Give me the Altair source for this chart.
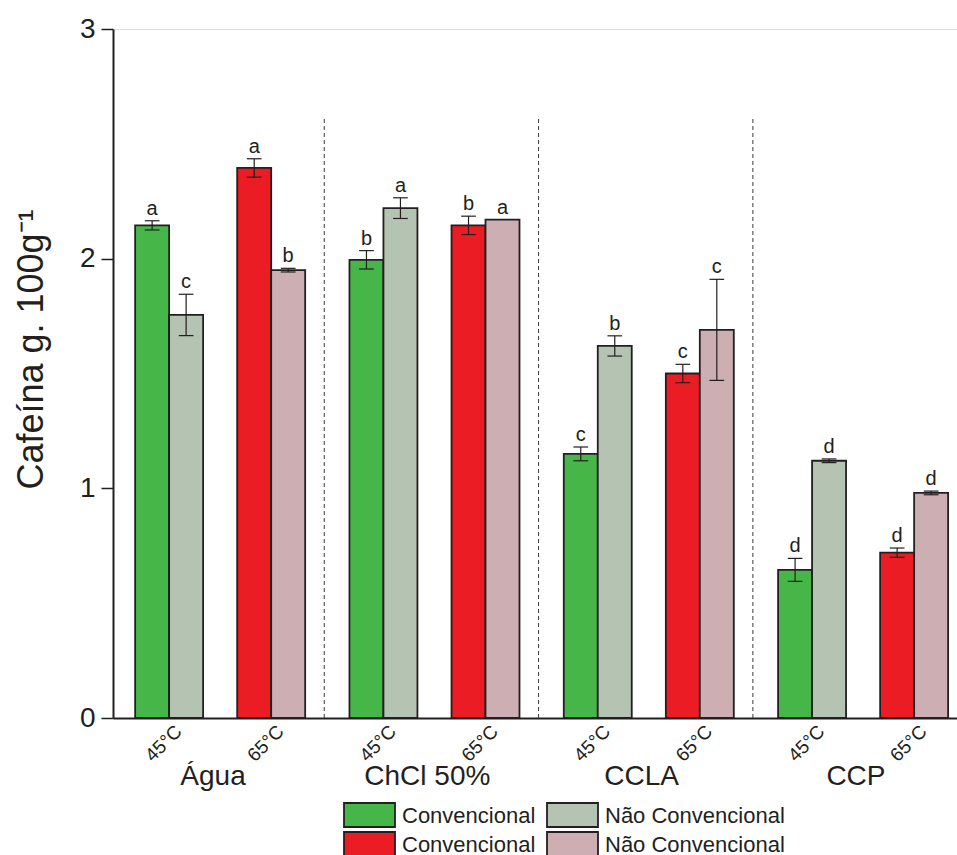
import altair as alt
import pandas as pd

# ---- data -------------------------------------------------------------
grupos = ["Água", "ChCl 50%", "CCLA", "CCP"]
temperaturas = ["45°C", "65°C"]
tratamentos = ["Convencional", "Não Convencional"]

# caffeine (g per 100 g), ordered group by group, 45 °C then 65 °C
conv_media = [2.145, 2.395, 1.995, 2.145, 1.15, 1.50, 0.645, 0.72]
conv_erro = [0.02, 0.04, 0.04, 0.04, 0.03, 0.04, 0.05, 0.02]
conv_letra = ["a", "a", "b", "b", "c", "c", "d", "d"]

nc_media = [1.755, 1.95, 2.22, 2.17, 1.62, 1.69, 1.12, 0.98]
nc_erro = [0.09, 0.008, 0.045, 0.0, 0.044, 0.22, 0.008, 0.008]
nc_letra = ["c", "b", "a", "a", "b", "c", "d", "d"]

divisor_topo = 2.61

# ---- layout constants (x in "pair" units) -----------------------------
PASSO_GRUPO = 2.1      # distance between the 45 °C pairs of two groups
LARG = 0.333           # bar width
TAMPA = 0.072          # half width of error-bar caps
FONTE = "Liberation Sans, Arial, Helvetica, sans-serif"
TINTA = "#231F20"

cores_dom = [
    "Convencional|45°C", "Não Convencional|45°C",
    "Convencional|65°C", "Não Convencional|65°C",
]
cores_rng = ["#47B649", "#B4C3B2", "#EC1C24", "#CDAEB2"]
cor_escala = alt.Scale(domain=cores_dom, range=cores_rng)

linhas = []
for gi, g in enumerate(grupos):
    for ti, t in enumerate(temperaturas):
        k = gi * 2 + ti
        centro = gi * PASSO_GRUPO + ti
        for si, (med, err, let) in enumerate([
            (conv_media[k], conv_erro[k], conv_letra[k]),
            (nc_media[k], nc_erro[k], nc_letra[k]),
        ]):
            x0 = centro + (si - 1) * LARG
            linhas.append({
                "grupo": g,
                "temp": t,
                "serie": f"{tratamentos[si]}|{t}",
                "x0": x0,
                "x1": x0 + LARG,
                "xc": x0 + LARG / 2,
                "media": med,
                "zero": 0.0,
                "lo": med - err,
                "hi": med + err,
                "err": err,
                "letra": let,
            })
df = pd.DataFrame(linhas)

centros_par = [gi * PASSO_GRUPO + ti for gi in range(len(grupos)) for ti in range(2)]
df_div = pd.DataFrame({
    "xd": [gi * PASSO_GRUPO + 1 + (PASSO_GRUPO - 1) / 2 - 0.03 for gi in range(len(grupos) - 1)],
    "y0": 0.0,
    "y1": divisor_topo,
})
df_grp = pd.DataFrame({
    "xg": [gi * PASSO_GRUPO + 0.5 - 0.07 for gi in range(len(grupos))],
    "nome": grupos,
})
# legend: 2 x 2 grid, rows = temperature, columns = treatment
df_leg = pd.DataFrame({
    "serie": cores_dom,
    "rotulo": [s.split("|")[0] for s in cores_dom],
    "col": [0, 1, 0, 1],
    "lin": [0, 0, 1, 1],
})

xscale = alt.Scale(domain=[-0.55, 7.72], nice=False, zero=False)
yscale = alt.Scale(domain=[0, 3], nice=False)

xaxis = alt.Axis(
    values=centros_par,
    labelExpr="(round(datum.value*10) % 21) == 0 ? '45°C' : '65°C'",
    labelAngle=315, labelAlign="right", labelBaseline="middle",
    labelOffset=9, labelPadding=10, ticks=False,
    labelFontSize=19, labelFont=FONTE, labelColor=TINTA,
    domainColor=TINTA, domainWidth=2, grid=False, title=None,
)
yaxis = alt.Axis(
    values=[0, 1, 2, 3], format="d", tickSize=12, tickWidth=1.5,
    tickColor=TINTA, labelFontSize=28, labelFont=FONTE,
    labelColor=TINTA, labelPadding=6, domainColor=TINTA,
    domainWidth=2, grid=False, title="Cafeína g. 100g⁻¹",
    titleFontSize=36, titleFont=FONTE, titleFontWeight="normal",
    titleColor=TINTA, titleX=-63, titleY=320, titleAngle=270,
    titleAlign="center", titleBaseline="bottom",
)


def X(campo):
    return alt.X(campo, scale=xscale, axis=xaxis)


def Y(campo):
    return alt.Y(campo, scale=yscale, axis=yaxis)


base = alt.Chart(df)

barras = base.mark_bar(stroke=TINTA, strokeWidth=1.8).encode(
    x=X("x0:Q"),
    x2="x1:Q",
    y=Y("media:Q"),
    y2="zero:Q",
    fill=alt.Fill("serie:N", scale=cor_escala, legend=None),
)

com_erro = base.transform_filter("datum.err > 0").transform_calculate(
    a=f"datum.xc - {TAMPA}", b=f"datum.xc + {TAMPA}"
)
regra = dict(color=TINTA, strokeWidth=1.2)
hastes = com_erro.mark_rule(**regra).encode(x=X("xc:Q"), y=Y("lo:Q"), y2="hi:Q")
tampa_sup = com_erro.mark_rule(**regra).encode(x=X("a:Q"), x2="b:Q", y=Y("hi:Q"))
tampa_inf = com_erro.mark_rule(**regra).encode(x=X("a:Q"), x2="b:Q", y=Y("lo:Q"))

letras = base.mark_text(
    fontSize=20, font=FONTE, color=TINTA, baseline="alphabetic", dy=-6
).encode(x=X("xc:Q"), y=Y("hi:Q"), text="letra:N")

divisores = alt.Chart(df_div).mark_rule(
    color="#3a3a3a", strokeWidth=1, strokeDash=[4, 3]
).encode(x=X("xd:Q"), y=Y("y0:Q"), y2="y1:Q")

rotulos_grupo = alt.Chart(df_grp).mark_text(
    fontSize=28, font=FONTE, color=TINTA, baseline="alphabetic", align="center"
).encode(x=X("xg:Q"), y=alt.value(756), text="nome:N")

# legend drawn in pixel space below the plot
leg = alt.Chart(df_leg).transform_calculate(
    px="231 + datum.col * 203",
    px2="282 + datum.col * 203",
    tx="289 + datum.col * 203",
    py="774 + datum.lin * 29",
    py2="798 + datum.lin * 29",
    ty="786 + datum.lin * 29",
)
leg_caixa = leg.mark_rect(stroke=TINTA, strokeWidth=1.8).encode(
    x=alt.X("px:Q", scale=None), x2="px2:Q",
    y=alt.Y("py:Q", scale=None), y2="py2:Q",
    fill=alt.Fill("serie:N", scale=cor_escala, legend=None),
)
leg_texto = leg.mark_text(
    fontSize=22, font=FONTE, color=TINTA, align="left", baseline="middle", dy=1
).encode(
    x=alt.X("tx:Q", scale=None), y=alt.Y("ty:Q", scale=None), text="rotulo:N"
)

chart = alt.layer(
    divisores, barras, hastes, tampa_sup, tampa_inf, letras, rotulos_grupo,
    leg_caixa, leg_texto,
).resolve_scale(
    x="shared", y="shared"
).properties(
    width=844,
    height=689,
    padding={"left": 113, "top": 29, "right": 0, "bottom": 137},
    autosize=alt.AutoSizeParams(type="none"),
).configure_view(stroke=None).configure(font=FONTE)

chart.save("out.html", embed_options={"renderer": "svg", "actions": False})
